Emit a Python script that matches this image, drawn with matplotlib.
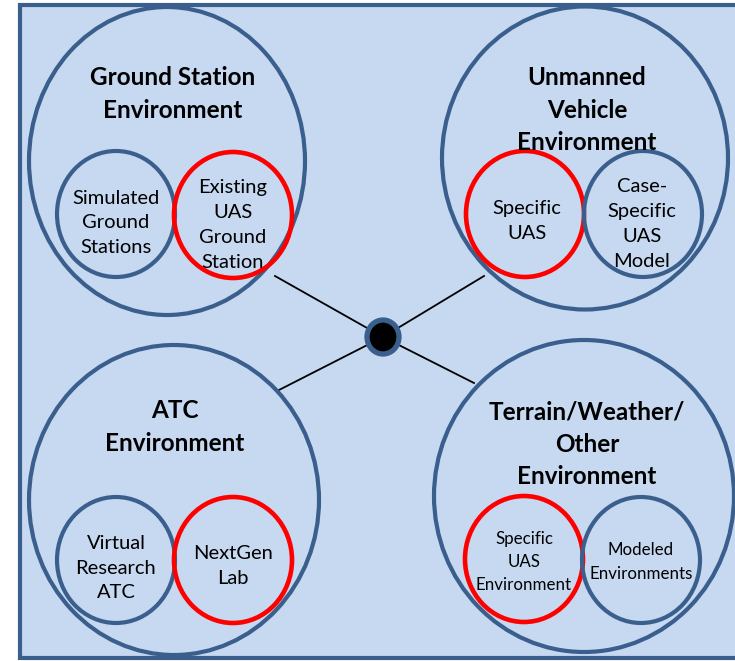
import matplotlib
matplotlib.use("Agg")
import matplotlib.pyplot as plt
from matplotlib.patches import Ellipse, Rectangle

plt.rcParams['font.family'] = ['Lato', 'DejaVu Sans']

BLUE = '#3b5f8d'
RED = '#ff0000'
FILL = '#c6d9f1'

# Environments (big circles)
env_titles = ["Ground Station\nEnvironment",
              "Unmanned\nVehicle\nEnvironment",
              "ATC\nEnvironment",
              "Terrain/Weather/\nOther\nEnvironment"]
# sub-components (left, right) of each environment
sub_left = ["Simulated\nGround\nStations", "Specific\nUAS",
            "Virtual\nResearch\nATC", "Specific\nUAS\nEnvironment"]
sub_right = ["Existing\nUAS\nGround\nStation", "Case-\nSpecific\nUAS\nModel",
             "NextGen\nLab", "Modeled\nEnvironments"]
# which sub-component is highlighted (red): 0 = left, 1 = right
highlight = [1, 0, 1, 0]

# geometry (pixel coordinates)
big_c = [(167, 161), (585, 158), (174, 500), (584, 496)]
big_wh = [(276, 308), (286, 303), (290, 310), (300, 312)]
title_xy = [(173, 94), (587, 110), (175, 427), (587, 444)]
subl_c = [(116, 214), (525, 214), (116, 560), (524, 559)]
subr_c = [(233, 215), (643, 214), (233, 560), (641, 560)]
sub_wh = (118, 126)
subl_txt = [(116, 223), (527, 221), (116, 568), (524, 562)]
subr_txt = [(233, 225), (642, 224), (233, 566), (641, 562)]
sub_fs = [14.5, 14.5, 14.5, 12.2]
sub_ls = [1.56, 1.56, 1.56, 1.55]
hub = (383, 337)
spoke_ends = [(275, 276), (484, 276), (279, 390), (474, 383)]

fig = plt.figure(figsize=(7.35, 6.61), dpi=100)
ax = fig.add_axes([0, 0, 1, 1])
ax.set_xlim(0, 735)
ax.set_ylim(661, 0)
ax.axis('off')

ax.add_patch(Rectangle((20, 5), 730, 653, facecolor=FILL, edgecolor=BLUE,
                       linewidth=3.0, zorder=0))

# spokes
for (x, y) in spoke_ends:
    ax.plot([hub[0], x], [hub[1], y], color='black', lw=1.3, zorder=1)

for i in range(4):
    w, h = big_wh[i]
    ax.add_patch(Ellipse(big_c[i], w, h, facecolor=FILL, edgecolor=BLUE,
                         linewidth=3.0, zorder=2))
    ax.text(title_xy[i][0], title_xy[i][1], env_titles[i], ha='center', va='center',
            fontsize=17.5, fontweight='bold', color='black', linespacing=1.48, zorder=5)
    for j, (c, t, tp) in enumerate([(subl_c[i], sub_left[i], subl_txt[i]),
                                    (subr_c[i], sub_right[i], subr_txt[i])]):
        col = RED if highlight[i] == j else BLUE
        ax.add_patch(Ellipse(c, sub_wh[0], sub_wh[1], facecolor='none', edgecolor=col,
                             linewidth=3.3 if col == RED else 3.0, zorder=3))
        ax.text(tp[0], tp[1], t, ha='center', va='center', fontsize=sub_fs[i],
                color='black', linespacing=sub_ls[i], zorder=5)

ax.add_patch(Ellipse(hub, 32, 34, facecolor='black', edgecolor=BLUE, linewidth=3.8, zorder=4))

fig.savefig('out.png', dpi=100)
